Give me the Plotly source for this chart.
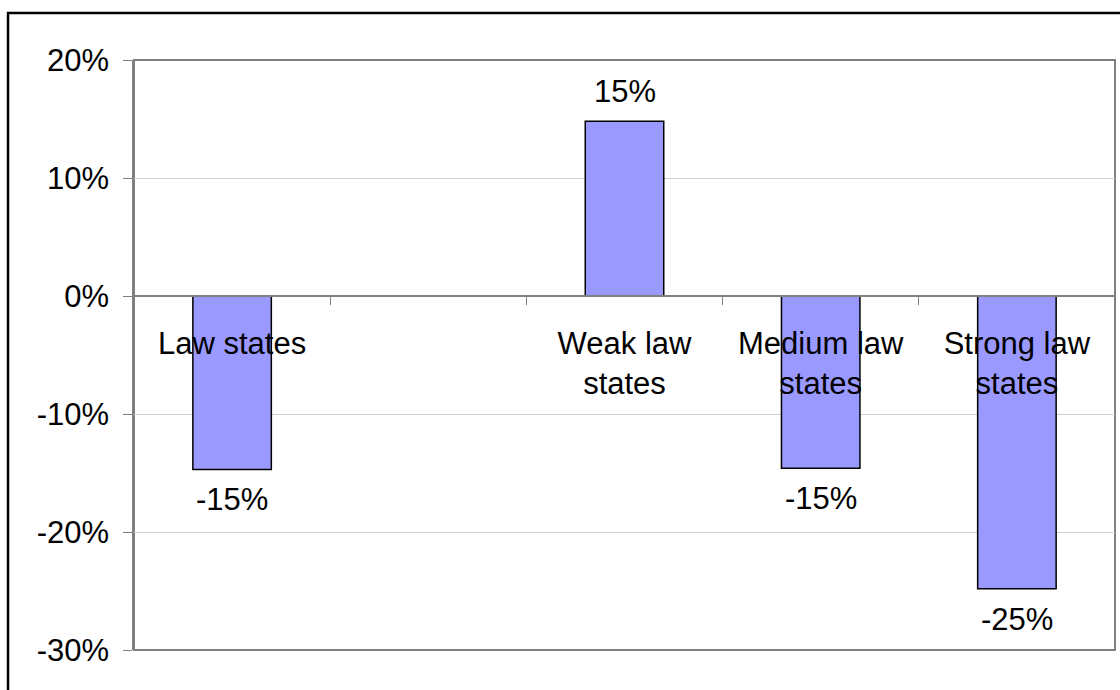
import plotly.graph_objects as go

# Change by state group; the blank slot keeps the gap between groups
categories = ["Law states", " ", "Weak law<br>states", "Medium law<br>states", "Strong law<br>states"]
values = [-0.147, None, 0.148, -0.146, -0.248]
y_ticks = [0.2, 0.1, 0.0, -0.1, -0.2, -0.3]
y_tick_labels = ["20%", "10%", "0%", "-10%", "-20%", "-30%"]

FONT = "Arial, Liberation Sans, sans-serif"


def pct(v):
    return f"{round(v * 100):.0f}%"


fig = go.Figure(
    go.Bar(
        x=categories,
        y=values,
        width=0.4,
        marker=dict(color="#9999FF", line=dict(color="black", width=1.5)),
        hoverinfo="x+y",
    )
)

# value labels just beyond the end of each bar
annotations = []
for cat, v in zip(categories, values):
    if v is None:
        continue
    annotations.append(dict(
        x=cat, y=v, xref="x", yref="y",
        text=pct(v),
        showarrow=False,
        yanchor="bottom" if v > 0 else "top",
        yshift=10 if v > 0 else -11,
        font=dict(family=FONT, size=31, color="black"),
    ))

fig.update_layout(
    width=1120,
    height=690,
    margin=dict(l=134, r=5, t=60, b=40),
    paper_bgcolor="white",
    plot_bgcolor="white",
    showlegend=False,
    font=dict(family=FONT, size=31, color="black"),
    xaxis=dict(
        type="category",
        anchor="free",
        position=0.6,
        showline=True,
        linecolor="#808080",
        linewidth=1.5,
        ticks="outside",
        tickson="boundaries",
        ticklen=8,
        tickcolor="#808080",
        ticklabelstandoff=20,
        showgrid=False,
        tickfont=dict(family=FONT, size=31, color="black"),
        zeroline=False,
    ),
    yaxis=dict(
        range=[-0.3, 0.2],
        tickvals=y_ticks,
        ticktext=y_tick_labels,
        ticks="outside",
        ticklen=9,
        tickcolor="#808080",
        ticklabelstandoff=8,
        showline=True,
        linecolor="#808080",
        linewidth=1.5,
        showgrid=True,
        gridcolor="#cfcfcf",
        gridwidth=1,
        zeroline=False,
        tickfont=dict(family=FONT, size=31, color="black"),
    ),
    annotations=annotations,
    shapes=[
        # plot-area frame
        dict(type="rect", xref="paper", yref="paper", x0=0, x1=1, y0=0, y1=1,
             line=dict(color="#808080", width=2), layer="below"),
        # outer chart border
        dict(type="rect", xref="paper", yref="paper", x0=-0.1284, x1=1.02, y0=-0.2, y1=1.0797,
             line=dict(color="black", width=2.5)),
    ],
)

fig.write_html("out.html")
